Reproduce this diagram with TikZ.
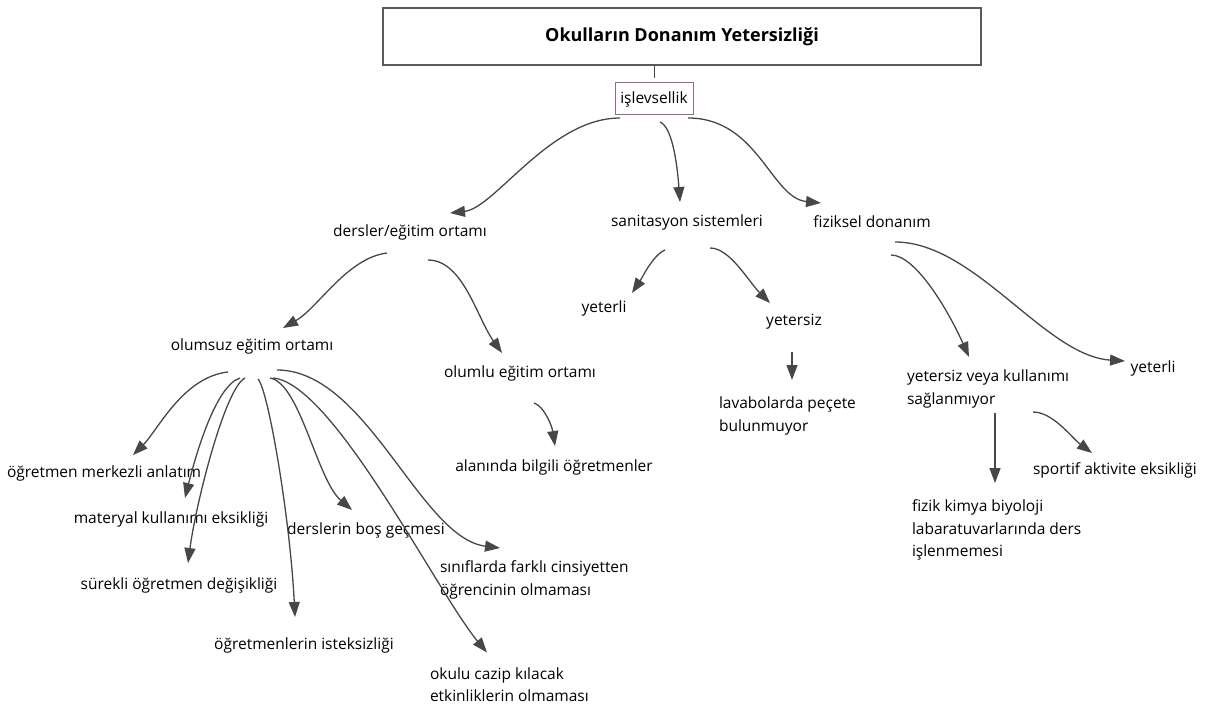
\documentclass[tikz,border=0pt]{standalone}
\usepackage{fontspec}
\setmainfont{Open Sans}
\usepackage{xcolor}
\usepackage{tikz}
\usetikzlibrary{arrows.meta,calc}

\definecolor{okgri}{HTML}{474747}
\definecolor{kutugri}{HTML}{5A5A5A}
\definecolor{mor}{HTML}{8E6A93}

\begin{document}
\begin{tikzpicture}[x=1pt,y=-1pt,inner sep=0,outer sep=0,
    etiket/.style={font=\fontsize{15.5}{22.5}\selectfont,align=left},
    ok/.style={draw=okgri,line width=1.3pt,-{Triangle[length=15pt,width=11pt]}}]

    \useasboundingbox (0,0) rectangle (1223,706);

    % Title box
    \node[draw=kutugri,line width=1.6pt,minimum width=598,minimum height=57,
          font=\bfseries\fontsize{18}{21}\selectfont] (baslik) at (682,36.5) {Okulların Donanım Yetersizliği};
    \node[etiket,draw=mor,line width=1pt,minimum width=78,minimum height=32,align=center] (islev) at (654,99) {işlevsellik};
    \draw[okgri,line width=1pt] (islev.north |- baslik.south) -- ([yshift=5pt]islev.north);

    % Second level
    \node[etiket] (dersler) at (410,232) {dersler/eğitim ortamı};
    \node[etiket] (sanitasyon) at (687,222) {sanitasyon sistemleri};
    \node[etiket] (fiziksel) at (872,222) {fiziksel donanım};

    \draw[ok] ([shift={(-34,19)}]islev.center) .. controls +(-70,0) and +(45,-5) .. ([shift={(40,-19)}]dersler.center);
    \draw[ok] ([shift={(6,23)}]islev.center) .. controls +(12,5) and +(-3,-40) .. ([shift={(-7,-20)}]sanitasyon.center);
    \draw[ok] ([shift={(34,19)}]islev.center) .. controls +(70,0) and +(-50,-5) .. ([shift={(-51,-19)}]fiziksel.center);

    % Lessons / learning environment
    \node[etiket] (olumsuz) at (252,346) {olumsuz eğitim ortamı};
    \node[etiket] (olumlu) at (520,373) {olumlu eğitim ortamı};
    \node[etiket] (alaninda) at (554,467) {alanında bilgili öğretmenler};

    \draw[ok] ([shift={(-23,21)}]dersler.center) .. controls +(-40,5) and +(35,-20) .. ([shift={(31,-18)}]olumsuz.center);
    \draw[ok] ([shift={(18,28)}]dersler.center) .. controls +(35,0) and +(-25,-35) .. ([shift={(-18,-20)}]olumlu.center);
    \draw[ok] ([shift={(14,30)}]olumlu.center) .. controls +(10,3) and +(-3,-20) .. ([shift={(1,-21)}]alaninda.center);

    % Negative environment
    \node[etiket,anchor=west] (merkezli) at (7,473) {öğretmen merkezli anlatım};
    \node[etiket] (materyal) at (171,519) {materyal kullanımı eksikliği};
    \node[etiket] (bos) at (366,530) {derslerin boş geçmesi};
    \node[etiket] (surekli) at (179,585) {sürekli öğretmen değişikliği};
    \node[etiket,anchor=west] (cinsiyet) at (440,580) {sınıflarda farklı cinsiyetten\\öğrencinin olmaması};
    \node[etiket] (isteksiz) at (304,645) {öğretmenlerin isteksizliği};
    \node[etiket,anchor=west] (etkinlik) at (430,684.5) {okulu cazip kılacak\\etkinliklerin olmaması};

    \draw[ok] ([shift={(-24,26)}]olumsuz.center) .. controls +(-45,5) and +(25,-25) .. ([shift={(126,-18)}]merkezli.west);
    \draw[ok] ([shift={(-12,32)}]olumsuz.center) .. controls +(-25,8) and +(10,-40) .. ([shift={(14,-21)}]materyal.center);
    \draw[ok] ([shift={(-7,32)}]olumsuz.center) .. controls +(-20,10) and +(8,-60) .. ([shift={(9,-22)}]surekli.center);
    \draw[ok] ([shift={(6,33)}]olumsuz.center) .. controls +(10,10) and +(-5,-100) .. ([shift={(-9,-28)}]isteksiz.center);
    \draw[ok] ([shift={(18,32)}]olumsuz.center) .. controls +(30,5) and +(-35,-30) .. ([shift={(-14,-20)}]bos.center);
    \draw[ok] ([shift={(21,32)}]olumsuz.center) .. controls +(60,5) and +(-50,-60) .. ([shift={(57,-32)}]etkinlik.west);
    \draw[ok] ([shift={(25,24)}]olumsuz.center) .. controls +(90,0) and +(-80,-10) .. ([shift={(60,-32)}]cinsiyet.west);

    % Sanitation
    \node[etiket] (yeterliA) at (604,308) {yeterli};
    \node[etiket] (yetersizA) at (794,322) {yetersiz};
    \node[etiket,anchor=west] (pecete) at (719,416) {lavabolarda peçete\\bulunmuyor};

    \draw[ok] ([shift={(-22,28)}]sanitasyon.center) .. controls +(-12,5) and +(10,-15) .. ([shift={(28,-15)}]yeterliA.center);
    \draw[ok] ([shift={(23,26)}]sanitasyon.center) .. controls +(20,0) and +(-22,-22) .. ([shift={(-24,-19)}]yetersizA.center);
    \draw[ok] ([shift={(-2,30)}]yetersizA.center) -- ([shift={(73,-36)}]pecete.west);

    % Physical equipment
    \node[etiket,anchor=west] (kullanim) at (907,389) {yetersiz veya kullanımı\\sağlanmıyor};
    \node[etiket] (yeterliB) at (1153,368) {yeterli};
    \node[etiket,anchor=west] (sportif) at (1033,470) {sportif aktivite eksikliği};
    \node[etiket,anchor=west] (lab) at (912,530) {fizik kimya biyoloji\\labaratuvarlarında ders\\işlenmemesi};

    \draw[ok] ([shift={(19,33)}]fiziksel.center) .. controls +(25,0) and +(-20,-45) .. ([shift={(62,-32)}]kullanim.west);
    \draw[ok] ([shift={(23,20)}]fiziksel.center) .. controls +(80,0) and +(-80,-5) .. ([shift={(-28,-7)}]yeterliB.center);
    \draw[ok] ([shift={(88,24)}]kullanim.west) -- ([shift={(83,-47)}]lab.west);
    \draw[ok] ([shift={(126,23)}]kullanim.west) .. controls +(20,0) and +(-20,-15) .. ([shift={(59,-17)}]sportif.west);

\end{tikzpicture}
\end{document}
